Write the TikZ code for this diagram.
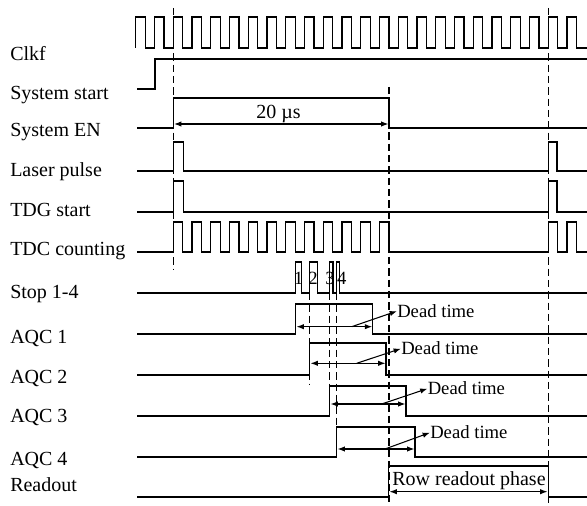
\documentclass[tikz,border=0pt]{standalone}
\usepackage{fontspec}
\setmainfont{Liberation Serif}
\usepackage{tikz}
\usetikzlibrary{arrows.meta}
\tikzset{sig/.style = {line width = 0.9pt, line join = miter}}
\tikzset{guide/.style = {line width = 0.9pt, dash pattern = on 5.5pt off 3pt}}
\tikzset{lbl/.style = {anchor = base west, inner sep = 0, font = \fontsize{15}{18}\selectfont}}
\tikzset{note/.style = {anchor = base west, inner sep = 0, font = \fontsize{14}{16}\selectfont}}
\tikzset{dim/.style = {line width = 0.8pt, >={Latex[length = 5.5pt, width = 4pt]}}}

\begin{document}
\begin{tikzpicture}[x = 0.75pt, y = -0.75pt]
      \useasboundingbox (0, 0) rectangle (587, 506);

      \node [lbl] (clkf) at (10, 61) {Clkf};
      \node [lbl] (sysstart) at (10, 100) {System start};
      \node [lbl] (sysen) at (10, 137) {System EN};
      \node [lbl] (laser) at (10, 177) {Laser pulse};
      \node [lbl] (tdg) at (10, 217) {TDG start};
      \node [lbl] (tdc) at (10, 256) {TDC counting};
      \node [lbl] (stop) at (10, 299) {Stop 1-4};
      \node [lbl] (aqca) at (10, 344) {AQC 1};
      \node [lbl] (aqcb) at (10, 384) {AQC 2};
      \node [lbl] (aqcc) at (10, 423) {AQC 3};
      \node [lbl] (aqcd) at (10, 466) {AQC 4};
      \node [lbl] (readout) at (10, 492) {Readout};

      % clock and counter
      \draw [sig] (135.8, 48) \foreach \k in {-2,...,21} {
        -- ({173.3 + 18.75*\k}, 48) -- ++(0, -31) -- ++(9.4, 0) -- ++(0, 31)
      } -- (587, 48);
      \draw [sig] (137, 252) \foreach \k in {0,...,11} {
        -- ({173.3 + 18.75*\k}, 252) -- ++(0, -30) -- ++(9.4, 0) -- ++(0, 30)
      } -- (548.3, 252) -- ++(0, -30) -- ++(9.4, 0) -- ++(0, 30) -- ++(9.35, 0)
        -- ++(0, -30) -- ++(9.4, 0) -- ++(0, 30) -- (587, 252);

      \draw [sig] (137, 89) -- (155, 89) -- (155, 59) -- (587, 59);
      \draw [sig] (137, 128) -- (173.3, 128) -- (173.3, 98) -- (389, 98) -- (389, 128) -- (587, 128);
      \draw [sig] (137, 171) -- (173.3, 171) -- (173.3, 142) -- (183.3, 142) -- (183.3, 171)
        -- (548.3, 171) -- (548.3, 142) -- (557, 142) -- (557, 171) -- (587, 171);
      \draw [sig] (137, 212) -- (173.3, 212) -- (173.3, 181) -- (183.3, 181) -- (183.3, 212)
        -- (548.3, 212) -- (548.3, 181) -- (557, 181) -- (557, 212) -- (587, 212);

      % stop pulses
      \draw [sig] (137, 293) \foreach \a/\b in {295.5/301.5, 309.5/317.5, 329.5/333, 336.5/339.5} {
        -- (\a, 293) -- (\a, 262) -- (\b, 262) -- (\b, 293)
      } -- (587, 293);
      \foreach \x/\n in {298.5/1, 313/2, 330/3, 341.7/4} {
        \node [note, anchor = base] at (\x, 284.5) {\n};
      }

      \draw [sig] (137, 334) -- (295.5, 334) -- (295.5, 304) -- (372.7, 304) -- (372.7, 334) -- (587, 334);
      \draw [sig] (137, 375) -- (309.5, 375) -- (309.5, 343) -- (386, 343) -- (386, 375) -- (587, 375);
      \draw [sig] (137, 416) -- (329.5, 416) -- (329.5, 386) -- (406, 386) -- (406, 416) -- (587, 416);
      \draw [sig] (137, 457) -- (336.5, 457) -- (336.5, 427) -- (415, 427) -- (415, 457) -- (587, 457);
      \draw [sig] (137, 497) -- (388.5, 497) -- (388.5, 466) -- (548.3, 466) -- (548.3, 497) -- (587, 497);

      % time marks
      \draw [guide] (173.3, 8) -- (173.3, 270);
      \draw [guide] (389, 87) -- (389, 506);
      \draw [guide] (548.3, 8) -- (548.3, 506);
      \draw [guide] (309.5, 293) -- (309.5, 385);
      \draw [guide] (329.5, 293) -- (329.5, 416);
      \draw [guide] (336.5, 293) -- (336.5, 427);

      \draw [dim, <->] (174, 124) -- (388.5, 124);
      \node [lbl, anchor = base] (width) at (278.5, 118.5) {20 µs};

      \node [note] (dta) at (397, 317.5) {Dead time};
      \node [note] (dtb) at (401, 355) {Dead time};
      \node [note] (dtc) at (427.5, 395) {Dead time};
      \node [note] (dtd) at (430, 439) {Dead time};
      \draw [dim, <->] (296.5, 326.7) -- (372.2, 326.7);
      \draw [dim, <->] (310.5, 363.3) -- (385.5, 363.3);
      \draw [dim, <->] (330.5, 404) -- (405.5, 404);
      \draw [dim, <->] (337.5, 449) -- (414.5, 449);
      \draw [dim, ->] (351.7, 326.7) -- (dta.west);
      \draw [dim, ->] (356.7, 363.3) -- (dtb.west);
      \draw [dim, ->] (381.7, 404) -- (dtc.west);
      \draw [dim, ->] (385, 449) -- (dtd.west);

      \draw [dim, <->] (389.5, 491.7) -- (547.5, 491.7);
      \node [lbl, anchor = base] (phase) at (469, 486) {Row readout phase};
\end{tikzpicture}
\end{document}
